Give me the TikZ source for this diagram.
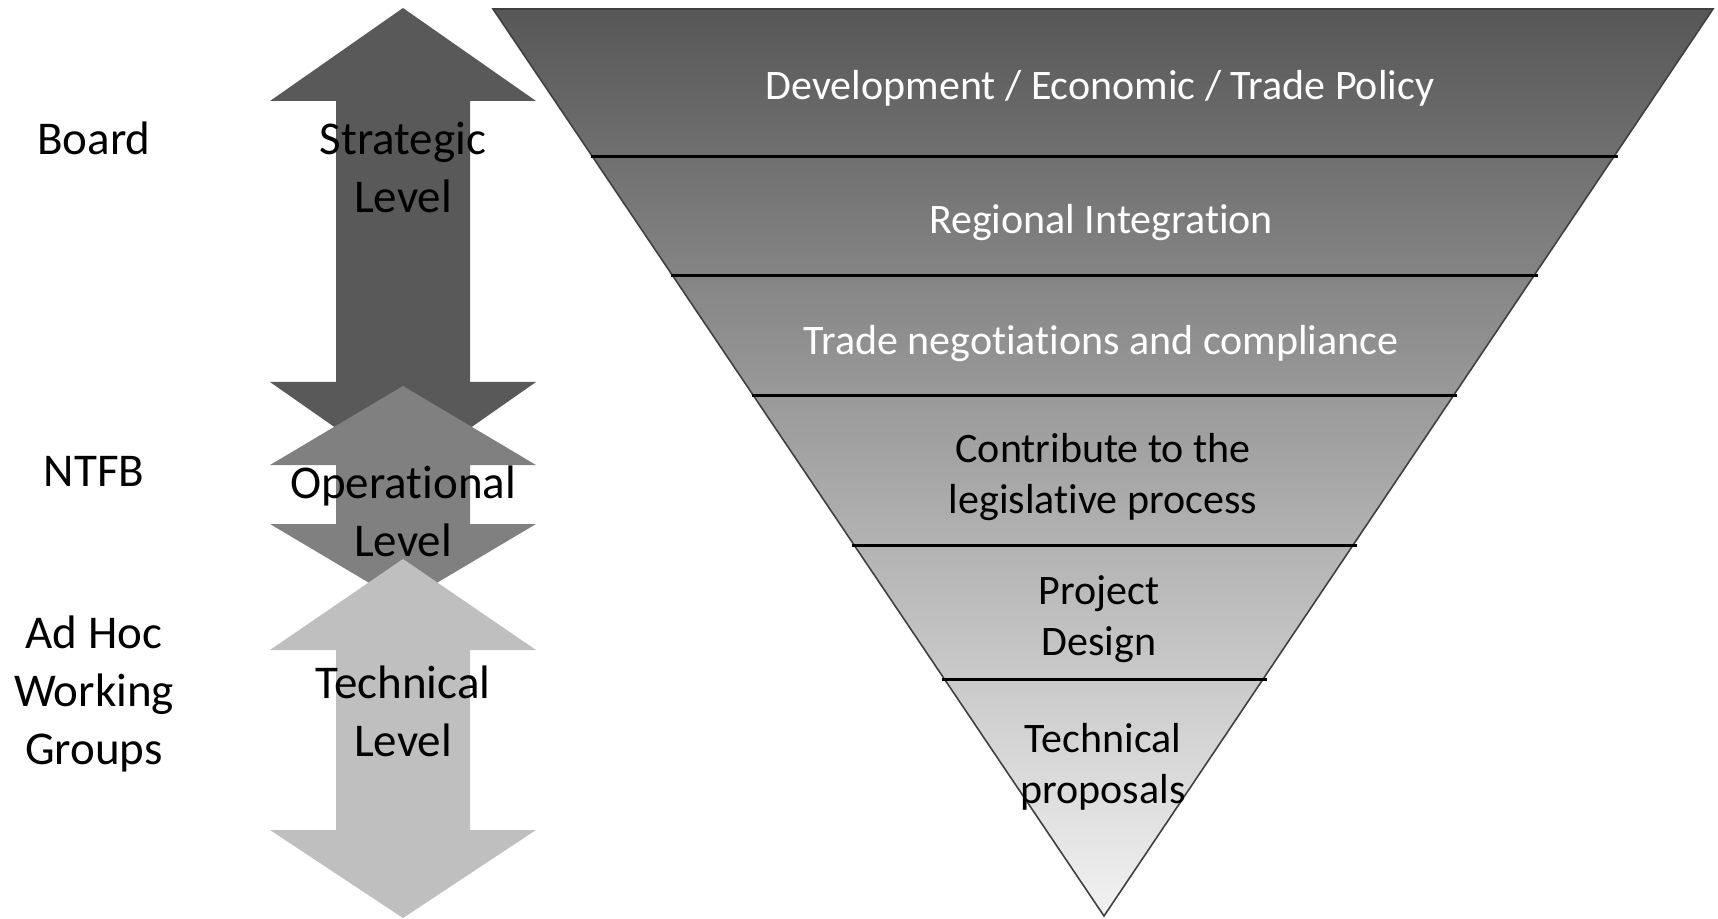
\documentclass[tikz,border=0pt]{standalone}
\usepackage{fontspec}
\setmainfont{Carlito}[RawFeature={-liga,-dlig,-clig}]
\begin{document}
\begin{tikzpicture}[x=0.5pt,y=-0.5pt,
  lvl/.style={align=center,font=\fontsize{23.5}{29}\selectfont,text=black,inner sep=0pt},
  band/.style={align=center,font=\fontsize{21}{25.75}\selectfont,inner sep=0pt},
  divider/.style={line width=1.5pt,black}]
\useasboundingbox (0,0) rectangle (1718,919);
\definecolor{strat}{HTML}{595959}
\definecolor{oper}{HTML}{808080}
\definecolor{tech}{HTML}{BFBFBF}
% double arrows
\newcommand{\dblarrow}[5]{%
  \fill[#5] (403,#1) -- (536,#2) -- (470,#2) -- (470,#3) -- (536,#3) -- (403,#4)
    -- (270,#3) -- (336,#3) -- (336,#2) -- (270,#2) -- cycle;}
\dblarrow{8}{101}{382}{475}{strat}
\dblarrow{386}{465}{524}{603}{oper}
\dblarrow{559}{650}{830}{918}{tech}
\node[lvl] (strategic) at (403,167) {Strategic\\Level};
\node[lvl] (operational) at (403,511) {Operational\\Level};
\node[lvl] (technical) at (403,711) {Technical\\Level};
% left labels
\node[lvl] (board) at (94,138) {Board};
\node[lvl] (ntfb) at (94,471) {NTFB};
\node[lvl] (adhoc) at (94,694) {Ad Hoc\\Working\\Groups};
% inverted triangle
\coordinate (tl) at (493,9);
\coordinate (tr) at (1713,9);
\coordinate (ap) at (1104,916);
\shade[top color=black!66,bottom color=black!5,draw=black!75,line width=0.8pt]
  (tl) -- (tr) -- (ap) -- cycle;
\foreach \y/\n in {157/a,276/b,396/c,545/d,679/e}{
  \pgfmathsetmacro{\xl}{493+(\y-9)/907*611}
  \pgfmathsetmacro{\xr}{1713-(\y-9)/907*609}
  \coordinate (L\n) at (\xl-2,\y);
  \coordinate (R\n) at (\xr+4,\y);
  \draw[divider] (L\n) -- (R\n);
}
\node[band,text=white] (dev) at (1100,88) {Development / Economic / Trade Policy};
\node[band,text=white] (reg) at (1101,223) {Regional Integration};
\node[band,text=white] (trade) at (1101,344) {Trade negotiations and compliance};
\node[band] (contrib) at (1103,477) {Contribute to the\\legislative process};
\node[band] (proj) at (1099,619) {Project\\Design};
\node[band] (techp) at (1103,767) {Technical\\proposals};
\end{tikzpicture}
\end{document}
